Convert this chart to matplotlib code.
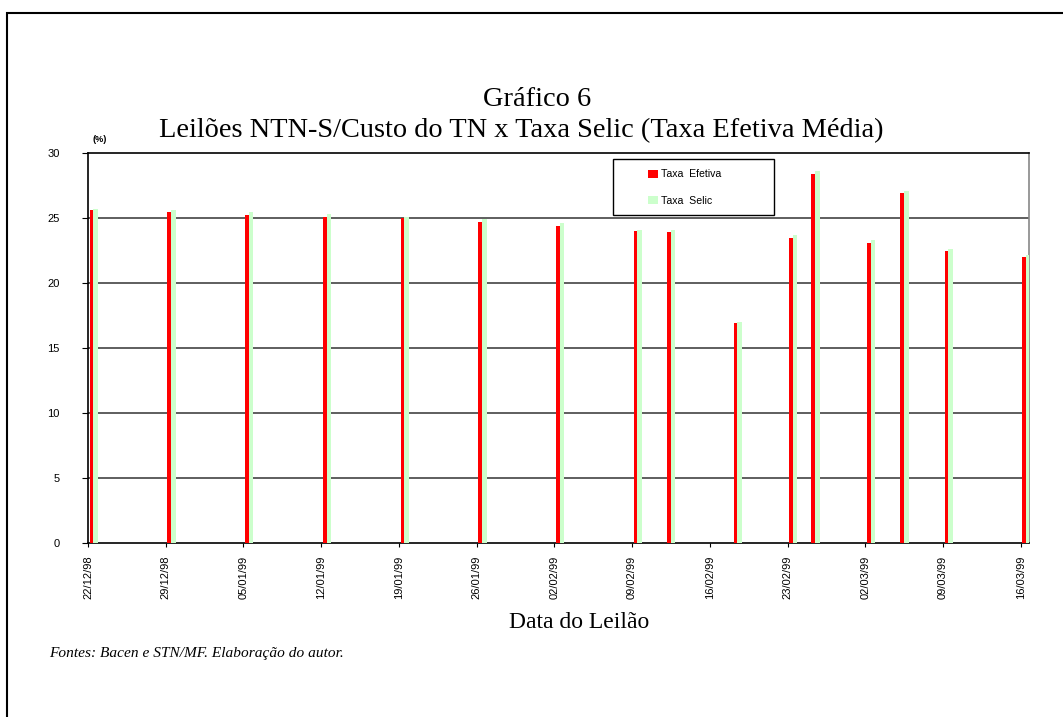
#!/usr/bin/env python3
"""
Grafico 6 - Leiloes NTN-S: taxa efetiva media x taxa Selic
"""

import datetime as dt

import matplotlib
matplotlib.use('Agg')
import matplotlib.pyplot as plt
import matplotlib.dates as mdates
from matplotlib.patches import Rectangle

# ── Data ──────────────────────────────────────────────────────────────────────

AUCTION_DATES = [
    '22/12/98', '29/12/98', '05/01/99', '12/01/99', '19/01/99', '26/01/99',
    '02/02/99', '09/02/99', '12/02/99', '18/02/99', '23/02/99', '25/02/99',
    '02/03/99', '05/03/99', '09/03/99', '16/03/99',
]
TAXA_EFETIVA = [25.6, 25.5, 25.2, 25.1, 25.0, 24.7, 24.4, 24.0,
                23.9, 16.9, 23.5, 28.4, 23.1, 26.95, 22.5, 22.0]
TAXA_SELIC = [25.7, 25.6, 25.5, 25.3, 25.1, 24.9, 24.6, 24.1,
              24.05, 17.0, 23.7, 28.6, 23.3, 27.1, 22.6, 22.15]

TICK_DATES = ['22/12/98', '29/12/98', '05/01/99', '12/01/99', '19/01/99',
              '26/01/99', '02/02/99', '09/02/99', '16/02/99', '23/02/99',
              '02/03/99', '09/03/99', '16/03/99']
Y_TICKS = [0, 5, 10, 15, 20, 25, 30]

SERIF = ['Liberation Serif', 'DejaVu Serif']
SANS = ['Liberation Sans', 'DejaVu Sans']


def to_num(s):
    return mdates.date2num(dt.datetime.strptime(s, '%d/%m/%y'))


def main():
    W, H = 1063, 717
    fig = plt.figure(figsize=(W / 100, H / 100), dpi=100)
    fig.patch.set_facecolor('white')

    # outer frame (left + top lines, runs off the right/bottom edge)
    fig.add_artist(Rectangle((7 / W, -0.1), 1.2, 1 - 13 / H + 0.1,
                             transform=fig.transFigure, fill=False,
                             edgecolor='black', linewidth=1.5))

    left, right, top, bottom = 88, 1029, 153, 543
    ax = fig.add_axes([left / W, 1 - bottom / H, (right - left) / W, (bottom - top) / H])

    x = [to_num(d) for d in AUCTION_DATES]
    ax.bar([v + 0.15 for v in x], TAXA_EFETIVA, width=0.34, align='edge',
           color='#ff0000', edgecolor='none', label='Taxa  Efetiva', zorder=3)
    ax.bar([v + 0.49 for v in x], TAXA_SELIC, width=0.41, align='edge',
           color='#ccffcc', edgecolor='none', label='Taxa  Selic', zorder=3)

    x0 = to_num(TICK_DATES[0])
    ax.set_xlim(x0, x0 + 84.75)
    ax.set_ylim(0, 30)

    ax.set_xticks([to_num(d) for d in TICK_DATES])
    ax.set_xticklabels(TICK_DATES, rotation=90, fontsize=8, family=SANS, va='top')
    ax.set_yticks(Y_TICKS)
    ax.set_yticklabels([str(v) for v in Y_TICKS], fontsize=8, family=SANS, ha='right')
    ax.tick_params(axis='y', direction='out', length=4, pad=16.5, width=0.8)
    ax.tick_params(axis='x', direction='out', length=3, pad=6, width=0.8)

    for yv in Y_TICKS[1:-1]:
        ax.axhline(yv, color='#333333', linewidth=1.1, zorder=1)
    ax.spines['top'].set_linewidth(1.2)
    ax.spines['left'].set_linewidth(1.2)
    ax.spines['bottom'].set_linewidth(1.2)
    ax.spines['right'].set_color('#888888')
    ax.spines['right'].set_linewidth(1.2)

    # legend box
    fig.add_artist(Rectangle((613 / W, 1 - 215 / H), 161 / W, 56 / H,
                             transform=fig.transFigure, fill=False,
                             edgecolor='black', linewidth=1.0, zorder=5))
    fig.legend(loc='upper left', bbox_to_anchor=(641 / W, 1 - 162 / H),
               frameon=False, prop={'family': SANS, 'size': 7.6},
               handlelength=0.95, handleheight=0.8, handletextpad=0.2,
               labelspacing=1.55, borderpad=0.2)

    # titles and texts
    fig.text(537 / W, 1 - 99 / H, 'Gráfico 6', ha='center', va='center',
             fontsize=20.4, family=SERIF)
    fig.text(521 / W, 1 - 131 / H,
             'Leilões NTN-S/Custo do TN x Taxa Selic (Taxa Efetiva Média)',
             ha='center', va='center', fontsize=20.4, family=SERIF)
    fig.text(100 / W, 1 - 140 / H, '(%)', ha='center', va='center',
             fontsize=6.5, family=SANS, weight='bold')
    fig.text(579 / W, 1 - 622 / H, 'Data do Leilão', ha='center', va='center',
             fontsize=17, family=SERIF)
    fig.text(49 / W, 1 - 653 / H, 'Fontes: Bacen e STN/MF. Elaboração do autor.',
             ha='left', va='center', fontsize=11.1, family=SERIF, style='italic')

    fig.savefig('out.png', dpi=100)
    plt.close(fig)


if __name__ == '__main__':
    main()
